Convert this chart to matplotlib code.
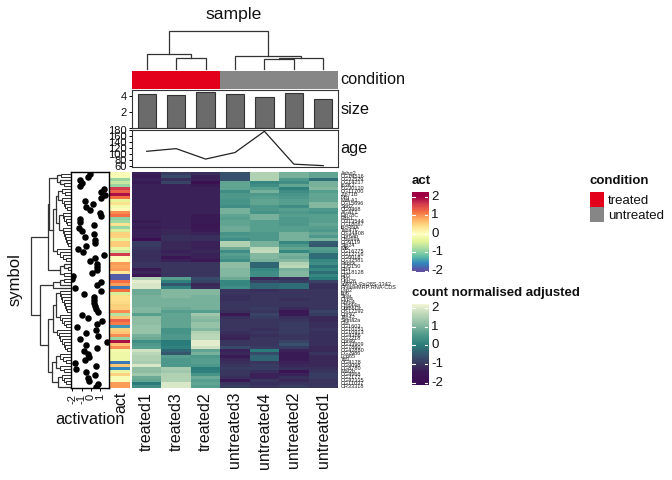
import numpy as np
import matplotlib
matplotlib.use("Agg")
import matplotlib.pyplot as plt
from matplotlib.colors import LinearSegmentedColormap
from matplotlib.patches import Rectangle

plt.rcParams['font.family'] = ['Liberation Sans', 'DejaVu Sans']

samples = ["treated1", "treated3", "treated2", "untreated3", "untreated4", "untreated2", "untreated1"]
condition = ["treated"] * 3 + ["untreated"] * 4
size_vals = [4.33, 4.2, 4.5, 4.25, 3.87, 4.38, 3.67]
age_vals = [109, 118, 83, 105, 176, 66, 61]
age_ticks = [60, 80, 100, 120, 140, 160, 180]

symbols = ["Ashg2", "CG14516", "CG32529", "CG14217", "Ip3K2", "CG30120", "CG11700", "Zip71B", "Nrg", "Mal-A1",
           "CG15696", "Spn2", "CG9468", "AGAT1", "Eip78C", "Fbp1", "CG13544", "CG18067", "lncRNA", "Tsp47F",
           "CG34408", "Cpr64b", "Obp99a", "CG9119", "Sfp24", "Mtk", "CG16775", "CG12716", "CG6018", "CG32581",
           "Pepck", "CG5150", "Rh4", "CG18128", "Rh5", "Ppn", "Hsp26", "snRNA:Psi28S-3342", "RNaseMRP:RNA-CDS", "Lsp2",
           "Ilp6", "Spat", "Cyp4", "Nplp4", "Obp44a", "Ugt86Dc", "CG17192", "Cpr47", "Tsp42", "Sema2a",
           "Gld", "CG1603", "CG10151", "CG10913", "CG4386", "CG2218", "Cpr49", "CG33909", "CG7860", "CG42880",
           "CG2986", "Lcp65", "Yp1", "CG4178", "CG9098", "CG8780", "Mal2b", "CG4968", "CG2177", "CG42335",
           "CG11037", "CR33318"]

activation = [-0.08, -0.30, -1.17, -0.95, -1.17, 1.43, 1.14, 1.58, 1.07, -0.66, 0.21, -0.52, -0.12, 0.96, 1.07, -1.2,
              -1.2, 0.31, -1.31, -0.95, 0.35, -0.66, 0.49, 0.49, -0.55, -1.35, -0.88, 1.47, 0.42, -0.08, 0.71, 0.71,
              0.64, 0.1, -1.92, -2.1, 1.04, 0.71, -1.78, 1.14, -0.77, 0.35, 0.35, 0.35, 0.42, 0.6, 0.82, -0.99,
              -0.34, 1.18, 0.71, -1.53, 0.6, -0.48, 0.78, -1.17, 1.69, -0.52, 0.67, -0.7, -0.3, -0.23, -0.59, -1.74,
              0.53, -1.67, -0.52, 0.42, -0.3, -0.19, 0.78, 0.6]

act = [-0.1, -0.1, -0.9, -0.6, -0.9, 1.6, 1.3, 1.9, 1.2, -0.4, 0.35, -0.2, 0.05, 1.0, 1.2, -0.95,
       -0.85, 0.35, -0.9, -0.5, 0.5, 0.5, -0.4, 0.55, 0.55, -0.3, -0.6, 1.6, 0.0, 0.0, 0.9, 0.85,
       0.9, 0.3, -1.9, -1.9, 1.2, 0.9, -1.7, 1.2, -0.5, 0.4, 0.4, 0.45, 0.5, 0.5, 1.0, -0.7,
       0.6, 1.3, 1.1, -1.5, 0.5, 0.6, 1.0, -0.9, 1.9, 0.6, 1.0, -0.2, -0.25, -0.25, -0.25, -1.7,
       0.6, -1.6, -0.3, 0.5, -0.1, -0.1, 0.9, 0.9]

heat = [
    [-1.3, -0.9, -1.1, -0.6, 1.5, 0.9, 0.7],
    [-1.4, -0.7, -1.3, -0.6, 1.5, 0.9, 0.7],
    [-1.3, -1.1, -1.3, -0.6, 1.5, 0.5, -0.2],
    [-1.4, -0.8, -1.9, 0.7, 0.2, 0.3, 0.9],
    [-1.3, -1.3, -1.4, 0.7, 0.3, 0.7, 0.9],
    [-1.3, -1.3, -1.3, 0.7, 0.6, 0.1, 1.0],
    [-1.3, -1.3, -1.3, 0.3, 0.9, 0.3, 0.6],
    [-1.3, -1.3, -1.3, 0.5, 0.5, 0.4, 0.7],
    [-1.3, -1.3, -1.3, 0.5, 0.6, 0.5, 0.7],
    [-1.3, -1.3, -1.3, 0.4, 0.7, 0.6, 0.7],
    [-1.3, -1.3, -1.3, 0.4, 0.7, 0.6, 1.0],
    [-1.3, -1.3, -1.3, 0.3, 0.5, 0.3, 1.0],
    [-1.3, -1.3, -1.3, 0.9, 0.5, 0.6, 0.5],
    [-1.3, -1.3, -1.3, 0.9, 0.4, 0.5, 0.4],
    [-1.3, -1.3, -1.4, 0.7, 0.9, 0.6, 0.6],
    [-1.3, -1.3, -1.4, 0.6, 0.9, 0.5, 0.6],
    [-1.4, -1.3, -1.4, 0.7, 0.6, 0.5, 0.6],
    [-1.3, -1.3, -1.5, 0.7, 0.6, 0.5, 0.7],
    [-1.4, -1.3, -1.5, 0.8, 0.6, 0.6, 0.6],
    [-1.3, -1.2, -1.4, 0.8, 0.6, 0.6, 0.5],
    [-1.3, -1.2, -1.3, 0.4, 0.5, 0.9, 0.7],
    [-1.3, -1.1, -1.1, 0.5, 0.5, 0.9, 0.5],
    [-1.9, -1.1, -1.1, 0.3, 0.5, 0.9, 0.9],
    [-0.9, -1.2, -1.3, 1.5, 0.9, 0.2, -0.4],
    [-0.9, -1.2, -1.3, 1.5, 0.9, 0.5, -0.5],
    [-1.0, -1.2, -1.3, 0.8, 1.6, 0.7, 0.6],
    [-1.1, -1.3, -1.2, 0.3, 1.7, 0.2, 0.5],
    [-1.1, -1.2, -1.3, 0.6, 1.0, 0.9, -0.2],
    [-1.1, -1.6, -1.3, 0.5, 1.0, 0.8, -0.2],
    [-1.1, -1.3, -1.5, 0.3, 0.9, 1.0, 0.2],
    [-1.0, -1.0, -1.0, 1.1, -0.3, 1.5, 0.3],
    [-1.0, -1.0, -1.0, 1.1, -0.3, 1.6, -0.1],
    [-1.4, -1.0, -1.0, 1.0, 0.2, 0.9, 0.2],
    [-1.2, -1.0, -1.0, 1.0, 0.3, 1.0, -0.2],
    [-1.6, -1.0, -1.0, 1.0, 0.3, 1.0, 0.2],
    [1.5, 0.6, -0.7, 0.8, -1.2, -1.0, 0.0],
    [2.0, 0.1, -0.8, 0.2, -0.8, -0.9, -0.8],
    [1.9, -0.5, -1.2, 0.2, -0.3, -0.2, -1.1],
    [1.9, 0.1, -1.1, 0.3, -0.3, -0.2, -1.1],
    [0.8, 1.0, 1.0, -1.0, -1.1, -1.0, -1.0],
    [0.8, 1.0, 1.0, -1.0, -1.0, -1.0, -1.0],
    [0.9, 1.0, 0.9, -1.1, -1.0, -1.0, -1.0],
    [0.9, 0.9, 0.9, -1.1, -1.0, -1.1, -1.0],
    [0.9, 0.9, 0.9, -1.0, -1.0, -1.0, -1.0],
    [0.9, 0.9, 0.9, -1.0, -1.0, -1.0, -1.0],
    [1.0, 0.8, 0.9, -1.0, -0.9, -1.2, -1.0],
    [1.0, 0.6, 0.6, -1.1, -1.0, -1.5, -0.8],
    [0.6, 0.7, 1.3, -1.5, -0.8, -1.4, -0.9],
    [1.1, 0.7, 1.1, -1.1, -0.9, -1.1, -1.2],
    [1.1, 0.7, 1.0, -1.0, -1.0, -1.0, -1.2],
    [1.1, 0.7, 1.2, -1.0, -1.0, -0.9, -1.1],
    [1.2, 0.7, 1.2, -1.0, -1.0, -0.9, -1.1],
    [1.2, 0.4, 1.0, -1.0, -1.1, -0.9, -1.0],
    [1.2, 0.4, 1.5, -1.1, -1.0, -0.9, -1.1],
    [0.9, 0.5, 1.6, -1.2, -1.1, -1.0, -1.1],
    [0.8, 0.5, 1.6, -1.3, -1.0, -1.0, -1.1],
    [0.3, 0.0, 2.0, -1.0, -1.0, -0.8, -1.1],
    [0.5, 0.0, 2.0, -1.0, -1.0, -0.6, -1.1],
    [0.6, 0.1, 1.8, -0.7, -0.9, -0.9, -1.2],
    [1.8, -0.3, 0.7, -1.3, 0.0, -1.3, -1.2],
    [1.6, -0.5, 0.9, -1.2, -0.7, -1.4, -1.0],
    [1.5, 0.6, 0.5, -1.4, -0.3, -1.4, -1.2],
    [1.5, 0.5, 0.6, -1.2, -0.3, -1.4, -1.2],
    [1.4, 0.5, 0.6, -1.1, -1.0, -1.3, -1.2],
    [1.9, 0.5, 0.5, -1.0, -0.9, -1.2, -1.2],
    [1.1, 1.4, 0.0, -0.9, -0.9, -1.1, -1.1],
    [1.1, 1.3, 0.1, -1.0, -1.1, -1.7, -1.0],
    [1.3, 1.5, 0.4, -1.0, -1.3, -1.3, -0.9],
    [0.8, 1.5, 0.8, -1.1, -1.3, -1.1, -0.9],
    [0.7, 1.5, 0.6, -1.4, -1.0, -1.2, -1.0],
    [0.0, 1.9, 0.7, -1.0, -1.1, -1.0, -1.0],
    [0.3, 1.9, 0.6, -0.9, -1.0, -0.9, -1.0],
]

W, H = 672, 480
fig = plt.figure(figsize=(W / 100, H / 100), dpi=100, facecolor="white")


def px_ax(x0, y0, x1, y1, **kw):
    return fig.add_axes([x0 / W, 1 - y1 / H, (x1 - x0) / W, (y1 - y0) / H], **kw)


def txt(x, y, s, size=12, ha="left", va="center", rot=0, **kw):
    fig.text(x / W, 1 - y / H, s, fontsize=size, ha=ha, va=va, rotation=rot, color=kw.pop("color", "#111111"), **kw)


heat_cmap = LinearSegmentedColormap.from_list("heat", [
    (0.0, "#3d0a52"), (0.18, "#3b1a55"), (0.25, "#3a2f5c"), (0.36, "#38506c"),
    (0.5, "#2a7c7b"), (0.62, "#4f9a8b"), (0.75, "#8ebda4"), (0.87, "#bcd8b8"), (1.0, "#f7f7d8")])

HX0, HX1, HY0, HY1 = 132, 338, 172, 388

# heatmap
ax = px_ax(HX0, HY0, HX1, HY1)
ax.imshow(np.array(heat), cmap=heat_cmap, vmin=-2.2, vmax=2.2, aspect="auto", interpolation="nearest")
ax.set_axis_off()

# sample labels
ncol = len(samples)
for i, s in enumerate(samples):
    xc = HX0 + (HX1 - HX0) * (i + 0.5) / ncol
    txt(xc, 392, s, size=11.5, ha="center", va="top", rot=90)

# symbol labels
nrow = len(symbols)
for i, s in enumerate(symbols):
    txt(340.5, HY0 + (HY1 - HY0) * (i + 0.5) / nrow, s, size=4.0, color="#222222")

# act strip
ax = px_ax(110, HY0, 130, HY1)
ax.imshow(np.array(act).reshape(-1, 1), cmap="Spectral_r", vmin=-2, vmax=2, aspect="auto", interpolation="nearest")
ax.set_axis_off()
txt(121, 392, "act", size=11.5, ha="center", va="top", rot=90)

# activation points
ax = px_ax(71, HY0, 109, HY1)
ax.scatter(activation, np.arange(nrow) + 0.5, s=22, color="black", zorder=3, clip_on=True, linewidths=0)
ax.set_xlim(-2.16, 1.96)
ax.set_ylim(nrow, 0)
ax.set_yticks([])
ax.set_xticks([-2, -1, 0, 1])
ax.set_xticklabels(["-2", "-1", "0", "1"], rotation=90, fontsize=8, color="#111111")
ax.tick_params(axis="x", length=2.5, width=0.7, pad=1.5)
for sp in ax.spines.values():
    sp.set_linewidth(1.0)
txt(90, 419, "activation", size=11.8, ha="center")
txt(15, 280, "symbol", size=12, ha="center", rot=90)

# condition strip
ax = px_ax(HX0, 71, HX1, 89)
cond_cols = {"treated": "#E2001A", "untreated": "#868686"}
for i, c in enumerate(condition):
    ax.bar(i, 1, width=1, color=cond_cols[c], linewidth=0)
ax.set_xlim(-0.5, ncol - 0.5)
ax.set_ylim(0, 1)
ax.set_axis_off()
txt(340.5, 80, "condition", size=11.7)

# size bars
ax = px_ax(HX0, 90, HX1, 128.3)
ax.bar(range(ncol), size_vals, width=0.62, color="#6b6b6b", edgecolor="#333333", linewidth=0.8)
ax.set_xlim(-0.5, ncol - 0.5)
ax.set_ylim(0, 4.79)
ax.set_xticks([])
ax.set_yticks([0, 2, 4], ["", "2", "4"])
ax.tick_params(axis="y", labelsize=8, length=2.5, width=0.7, pad=1.5, labelcolor="#111111")
for sp in ax.spines.values():
    sp.set_color("#333333")
txt(340.5, 110, "size", size=11.7)

# age line
ax = px_ax(HX0, 129.5, HX1, 167.3)
ax.plot(range(ncol), age_vals, color="#222222", lw=0.9)
ax.set_xlim(-0.5, ncol - 0.5)
ax.set_ylim(55.5, 182)
ax.set_xticks([])
ax.set_yticks(age_ticks)
ax.tick_params(axis="y", labelsize=8, length=2.5, width=0.7, pad=1.5, labelcolor="#111111")
for sp in ax.spines.values():
    sp.set_color("#333333")
txt(340.5, 149, "age", size=11.7)

# overlay for dendrograms, pixel coordinates
ov = fig.add_axes([0, 0, 1, 1], facecolor="none")
ov.set_xlim(0, W)
ov.set_ylim(H, 0)
ov.set_axis_off()
DC = "#333333"
DL = 0.9


def col_x(i):
    return HX0 + (HX1 - HX0) * (i + 0.5) / ncol


def link(a, b, ya, yb, y):
    ov.plot([a, a, b, b], [ya, y, y, yb], color=DC, lw=DL, solid_joinstyle="miter")


# top dendrogram
leaf_y = 69
x12 = (col_x(1) + col_x(2)) / 2
link(col_x(1), col_x(2), leaf_y, leaf_y, 57.7)
xl = (col_x(0) + x12) / 2
link(col_x(0), x12, leaf_y, 57.7, 53.7)
x45 = (col_x(4) + col_x(5)) / 2
link(col_x(4), col_x(5), leaf_y, leaf_y, 59.3)
x456 = (x45 + col_x(6)) / 2
link(x45, col_x(6), 59.3, leaf_y, 57.5)
xr = (col_x(3) + x456) / 2
link(col_x(3), x456, leaf_y, 57.5, 56.3)
link(xl, xr, 53.7, 56.3, 30.7)
txt(234, 14, "sample", size=12.6, ha="center")

# left dendrogram: (x of the join in px, upper child, lower child); an int is a run of that many rows
row_tree = (31,
            (48,
             (48.5,
              (57, 2, (60, 1, 2)),
              (53, (56, (58, 3, 5), (58.5, 5, 7)), 5)),
             (60, (64, 1, 2), 2)),
            (40,
             (53, (60, 2, 1), 1),
             (48,
              (53, (56, 8, 5), 8),
              (52, (56, 4, 3), (58, 4, 1)))))


class Cursor:
    row = 0


def run(n, x_parent):
    """Draw a run of n rows as a ladder; return its (y, x)."""
    y0 = HY0 + 3.0 * Cursor.row
    ys = [y0 + 3.0 * (k + 0.5) for k in range(n)]
    Cursor.row += n
    if n == 1:
        return ys[0], 70.0
    xs = x_parent + 4
    step = (68.5 - xs) / max(n - 1, 1)
    cy, cx = ys[-1], 70.0
    for k in range(n - 2, -1, -1):
        nx = xs + step * k
        ov.plot([cx, nx, nx, 70.0], [cy, cy, ys[k], ys[k]], color=DC, lw=DL * 0.8)
        cy = (cy + ys[k]) / 2
        cx = nx
    return cy, cx


def draw(node, x_parent=31):
    if isinstance(node, int):
        return run(node, x_parent)
    x, a, b = node
    ya, xa = draw(a, x)
    yb, xb = draw(b, x)
    ov.plot([xa, x, x, xb], [ya, ya, yb, yb], color=DC, lw=DL, solid_joinstyle="miter")
    return (ya + yb) / 2, x


draw(row_tree)


# legends
def colorbar(x0, y0, x1, y1, cmap, vtop, vbot, ticks, yt):
    a = px_ax(x0, y0, x1, y1)
    a.imshow(np.linspace(vtop, vbot, 256).reshape(-1, 1), cmap=cmap, vmin=-2 if cmap == "Spectral_r" else -2.2,
             vmax=2 if cmap == "Spectral_r" else 2.2, aspect="auto", extent=[0, 1, vbot, vtop])
    a.set_axis_off()
    for t in ticks:
        a.plot([0, 0.2], [t, t], color="white", lw=0.8)
        a.plot([0.8, 1], [t, t], color="white", lw=0.8)
        txt(x1 + 3, yt(t), str(t), size=9.5, color="#111111")
    a.set_xlim(0, 1)
    a.set_ylim(vbot, vtop)


txt(412, 181, "act", size=9.5, weight="bold")
colorbar(412, 192, 428, 272, "Spectral_r", 2.25, -2.07, [2, 1, 0, -1, -2], lambda t: 233.7 - 18.6 * t)
txt(412, 293, "count normalised adjusted", size=9.5, weight="bold")
colorbar(412, 304, 428, 385, heat_cmap, 2.2, -2.1, [2, 1, 0, -1, -2], lambda t: 345.5 - 18.8 * t)

txt(590, 181, "condition", size=9.5, weight="bold")
lg = px_ax(590, 192, 604, 222)
lg.add_patch(Rectangle((0, 0.5), 1, 0.5, color=cond_cols["treated"], lw=0))
lg.add_patch(Rectangle((0, 0), 1, 0.5, color=cond_cols["untreated"], lw=0))
lg.set_xlim(0, 1)
lg.set_ylim(0, 1)
lg.set_axis_off()
txt(608, 201, "treated", size=9.5)
txt(608, 216, "untreated", size=9.5)

fig.savefig("out.png", dpi=100, facecolor="white")
